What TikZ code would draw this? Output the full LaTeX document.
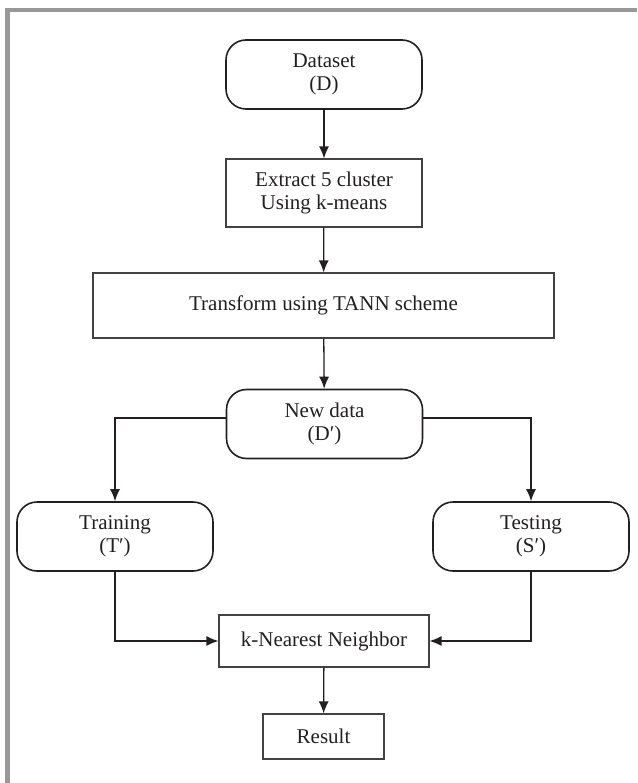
\documentclass[tikz,border=0pt]{standalone}
\usepackage{fontspec}
\setmainfont{Liberation Serif}
\usepackage{tikz}
\usetikzlibrary{arrows.meta}

\definecolor{framegray}{RGB}{152,152,152}
\definecolor{ink}{RGB}{35,31,32}

\tikzset{
  roundbox/.style={draw=ink, text=ink, rounded corners=20pt, line width=1.6pt,
    minimum width=196pt, minimum height=69pt, align=center,
    font=\fontsize{21}{23.5}\selectfont},
  squarebox/.style={draw=ink!85, text=ink, line width=1.1pt,
    minimum width=196pt, minimum height=68pt, align=center,
    font=\fontsize{21}{23.5}\selectfont},
  flow/.style={draw=ink, line width=1.3pt, -{Latex[length=12pt,width=10pt]}}
}

\begin{document}
\begin{tikzpicture}[x=1pt,y=-1pt]
    \useasboundingbox (0,0) rectangle (637,783);
    \fill[white] (0,0) rectangle (637,783);

    % frame
    \draw[framegray, line width=4.5pt] (7.5,783) -- (7.5,10) -- (637,10);

    \node[roundbox] (dataset) at (324,74.5) {Dataset\\(D)};
    \node[squarebox] (extract) at (324,193) {Extract 5 cluster\\Using k-means};
    \node[squarebox, minimum width=461pt, minimum height=65pt] (tann) at (323.5,305.5) {Transform using TANN scheme};
    \node[roundbox] (newdata) at (324.5,424) {New data\\(D′)};
    \node[roundbox] (training) at (115,536.5) {Training\\(T′)};
    \node[roundbox] (testing) at (531,536.5) {Testing\\(S′)};
    \node[squarebox, minimum width=210pt, minimum height=52pt] (knn) at (324,641) {k-Nearest Neighbor};
    \node[squarebox, minimum width=121pt, minimum height=45pt] (result) at (323.5,736.5) {Result};

    \draw[flow] (dataset) -- (extract);
    \draw[flow] (extract) -- (tann);
    \draw[flow] (tann) -- (newdata);
    \draw[flow] ([yshift=6pt]newdata.west) -| (training);
    \draw[flow] ([yshift=6pt]newdata.east) -| (testing);
    \draw[flow] (training) |- (knn);
    \draw[flow] (testing) |- (knn);
    \draw[flow] (knn) -- (result);
\end{tikzpicture}
\end{document}
